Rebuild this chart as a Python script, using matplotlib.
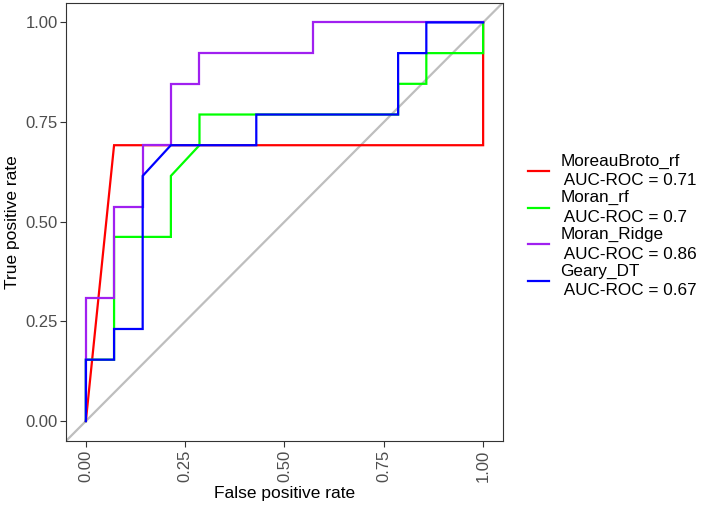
import matplotlib
matplotlib.use("Agg")
import matplotlib.pyplot as plt

plt.rcParams['font.family'] = ['Liberation Sans', 'DejaVu Sans']

# Data
models = ["MoreauBroto_rf", "Moran_rf", "Moran_Ridge", "Geary_DT"]
auc_labels = ["0.71", "0.7", "0.86", "0.67"]
colors = ["#FF0000", "#00FF00", "#A020F0", "#0000FF"]

fpr_moreau = [0, 0.071, 1.0, 1.0]
tpr_moreau = [0, 0.692, 0.692, 1.0]

fpr_moran_rf = [0, 0, 0.071, 0.071, 0.214, 0.214, 0.286, 0.286, 0.786, 0.786, 0.857, 0.857, 1.0, 1.0]
tpr_moran_rf = [0, 0.154, 0.154, 0.462, 0.462, 0.615, 0.692, 0.769, 0.769, 0.846, 0.846, 0.923, 0.923, 1.0]

fpr_moran_ridge = [0, 0, 0.071, 0.071, 0.143, 0.143, 0.214, 0.214, 0.286, 0.286, 0.571, 0.571, 1.0]
tpr_moran_ridge = [0, 0.308, 0.308, 0.538, 0.538, 0.692, 0.692, 0.846, 0.846, 0.923, 0.923, 1.0, 1.0]

fpr_geary = [0, 0, 0.071, 0.071, 0.143, 0.143, 0.214, 0.429, 0.429, 0.786, 0.786, 0.857, 0.857, 1.0]
tpr_geary = [0, 0.154, 0.154, 0.231, 0.231, 0.615, 0.692, 0.692, 0.769, 0.769, 0.923, 0.923, 1.0, 1.0]

curves = [(fpr_moreau, tpr_moreau), (fpr_moran_rf, tpr_moran_rf),
          (fpr_moran_ridge, tpr_moran_ridge), (fpr_geary, tpr_geary)]

ticks = [0.0, 0.25, 0.5, 0.75, 1.0]
tick_labels = ["0.00", "0.25", "0.50", "0.75", "1.00"]

fig = plt.figure(figsize=(7.08, 5.07), dpi=100)
ax = fig.add_axes([66 / 708, 1 - 441 / 507, (503 - 66) / 708, (441 - 2.5) / 507])

ax.plot([-0.05, 1.05], [-0.05, 1.05], color="#BEBEBE", lw=1.6, zorder=1)

handles = []
for (fx, ty), name, auc, col in zip(curves, models, auc_labels, colors):
    h, = ax.plot(fx, ty, color=col, lw=1.6, label=f"{name}\n AUC-ROC = {auc}",
                 solid_joinstyle="miter", zorder=2)
    handles.append(h)

ax.set_xlim(-0.05, 1.05)
ax.set_ylim(-0.05, 1.05)
ax.set_xticks(ticks)
ax.set_xticklabels(tick_labels, rotation=90)
ax.set_yticks(ticks)
ax.set_yticklabels(tick_labels)
ax.tick_params(axis="both", colors="#333333", labelcolor="#4D4D4D",
               labelsize=12, length=4, width=0.8, direction="out", pad=2)
for s in ax.spines.values():
    s.set_color("#333333")
    s.set_linewidth(0.8)

ax.set_xlabel("False positive rate", fontsize=12.5, color="black", labelpad=3)
ax.set_ylabel("True positive rate", fontsize=12.5, color="black", labelpad=4)

leg = fig.legend(handles=handles, loc="center left",
                 bbox_to_anchor=(528 / 708, 1 - 226 / 507),
                 frameon=False, fontsize=12.3, handlelength=1.25,
                 handletextpad=0.65, labelspacing=0.12, borderaxespad=0,
                 borderpad=0)
for t in leg.get_texts():
    t.set_linespacing(1.38)

fig.savefig("out.png", dpi=100)
